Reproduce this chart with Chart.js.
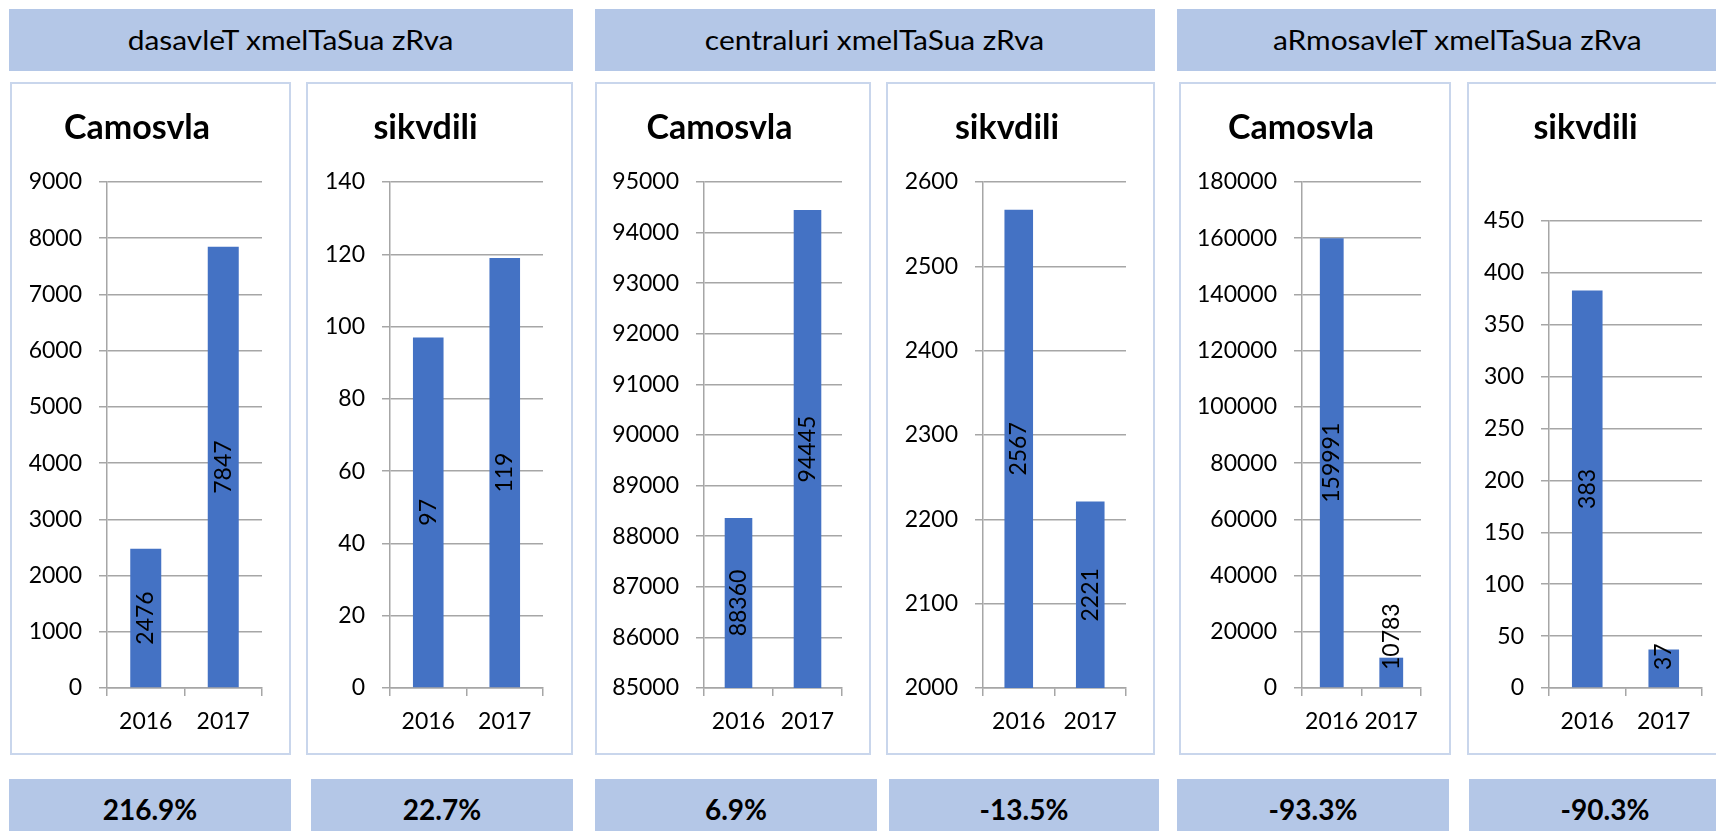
<!DOCTYPE html>
<html>
<head>
<meta charset="utf-8">
<script src="https://cdn.jsdelivr.net/npm/chart.js@4"></script>
<style>
  body { margin: 0; background: #fff; width: 1716px; height: 831px; overflow: hidden; position: relative; font-family: Lato, sans-serif; }
  .hdr, .pct { position: absolute; background: #b4c7e7; display: flex; align-items: center; justify-content: center; color: #000; }
  .hdr span { font-size: 26px; display: inline-block; transform: scaleX(1.15); white-space: nowrap; }
  .pct { font-size: 28px; font-weight: bold; }
  .panel { position: absolute; border: 2px solid #c9d6ec; box-sizing: border-box; background: #fff; }
  canvas { position: absolute; }
</style>
</head>
<body>
<script>
// data
var regions = ['dasavleT xmelTaSua zRva', 'centraluri xmelTaSua zRva', 'aRmosavleT xmelTaSua zRva'];
var chartTitles = ['Camosvla', 'sikvdili'];
var years = ['2016', '2017'];
var arrivals = [[2476, 7847], [88360, 94445], [159991, 10783]];
var deaths = [[97, 119], [2567, 2221], [383, 37]];
var changes = ['216.9%', '22.7%', '6.9%', '-13.5%', '-93.3%', '-90.3%'];
// y axis [min, max, step] per chart
var yRanges = [[0, 9000, 1000], [0, 140, 20], [85000, 95000, 1000], [2000, 2600, 100], [0, 180000, 20000], [0, 450, 50]];

// layout (page pixels)
var headerBoxes = [[9, 564], [595, 560], [1177, 560]];
var panelBoxes = [[10, 281], [306, 267], [595, 276], [886, 269], [1179, 272], [1467, 272]];
var plotBoxes = [[107, 262, 182], [390, 543, 182], [704, 842, 182], [983, 1126, 182], [1302, 1421, 182], [1549, 1702, 221]];
var pctBoxes = [[9, 282], [311, 262], [595, 282], [889, 270], [1177, 272], [1469, 272]];
var panelTop = 82, panelBottom = 755, plotBottom = 688;

var gridColor = '#a6a6a6';

var barLabels = {
    id: 'barLabels',
    afterDatasetsDraw(chart) {
        let ctx = chart.ctx;
        let meta = chart.getDatasetMeta(0);
        let vals = chart.data.datasets[0].data;
        let bottom = chart.chartArea.bottom;
        ctx.save();
        ctx.font = '23px Lato';
        ctx.fillStyle = '#000';
        ctx.textAlign = 'center';
        ctx.textBaseline = 'middle';
        meta.data.forEach((bar, i) => {
            let txt = String(vals[i]);
            let half = ctx.measureText(txt).width / 2;
            let base = Math.min(bar.base, bottom);
            let cy = Math.min((bar.y + base) / 2, bottom - 18 - half);
            ctx.save();
            ctx.translate(bar.x, cy);
            ctx.rotate(-Math.PI / 2);
            ctx.fillText(txt, 0, 0);
            ctx.restore();
        });
        ctx.restore();
    }
};

function box(cls, x, y, w, h, text) {
    let d = document.createElement('div');
    d.className = cls;
    d.style.left = x + 'px';
    d.style.top = y + 'px';
    d.style.width = w + 'px';
    d.style.height = h + 'px';
    if (text) {
        let s = document.createElement('span');
        s.textContent = text;
        d.appendChild(s);
    }
    document.body.appendChild(d);
    return d;
}

function makeChart(i, values) {
    let p = panelBoxes[i];
    let pl = plotBoxes[i];
    let r = yRanges[i];
    box('panel', p[0], panelTop, p[1], panelBottom - panelTop);

    let cl = p[0] + 2, ct = panelTop + 2;
    let cw = p[1] - 4, ch = panelBottom - panelTop - 4;
    let cv = document.createElement('canvas');
    cv.width = cw;
    cv.height = ch;
    cv.style.left = cl + 'px';
    cv.style.top = ct + 'px';
    document.body.appendChild(cv);

    let titleTop = 128 - 20.4 - ct;
    let titleBottom = pl[2] - ct - titleTop - 40.8;

    return new Chart(cv, {
        type: 'bar',
        data: {
            labels: years,
            datasets: [{
                data: values,
                backgroundColor: '#4472c4',
                borderWidth: 0,
                barPercentage: 0.4,
                categoryPercentage: 1.0
            }]
        },
        options: {
            responsive: false,
            animation: false,
            layout: { padding: { left: 0, right: cl + cw - pl[1], top: 0, bottom: 0 } },
            plugins: {
                legend: { display: false },
                tooltip: { enabled: false },
                title: {
                    display: true,
                    text: chartTitles[i % 2],
                    color: '#000',
                    font: { family: 'Lato', size: 34, weight: 'bold', lineHeight: 1.2 },
                    padding: { top: titleTop, bottom: titleBottom }
                }
            },
            scales: {
                x: {
                    afterFit: (s) => { s.height = ct + ch - plotBottom; },
                    grid: { drawOnChartArea: false, drawTicks: true, tickLength: 8, color: gridColor, lineWidth: 1.5 },
                    border: { display: true, color: gridColor, width: 1.5 },
                    ticks: { color: '#000', padding: 12, font: { family: 'Lato', size: 23 } }
                },
                y: {
                    min: r[0],
                    max: r[1],
                    afterFit: (s) => { s.width = pl[0] - cl; },
                    grid: { color: gridColor, lineWidth: 1.5, tickLength: 8 },
                    border: { display: true, color: gridColor, width: 1.5 },
                    ticks: {
                        stepSize: r[2],
                        color: '#000',
                        padding: 17,
                        font: { family: 'Lato', size: 23 },
                        callback: (v) => String(v)
                    }
                }
            }
        },
        plugins: [barLabels]
    });
}

function start() {
    regions.forEach((name, k) => {
        box('hdr', headerBoxes[k][0], 9, headerBoxes[k][1], 62, name);
        makeChart(k * 2, arrivals[k]);
        makeChart(k * 2 + 1, deaths[k]);
    });
    changes.forEach((c, i) => {
        box('pct', pctBoxes[i][0], 779, pctBoxes[i][1], 60, c);
    });
}

document.fonts.load('23px Lato').then(() => document.fonts.load('bold 34px Lato')).then(start, start);
</script>
</body>
</html>
